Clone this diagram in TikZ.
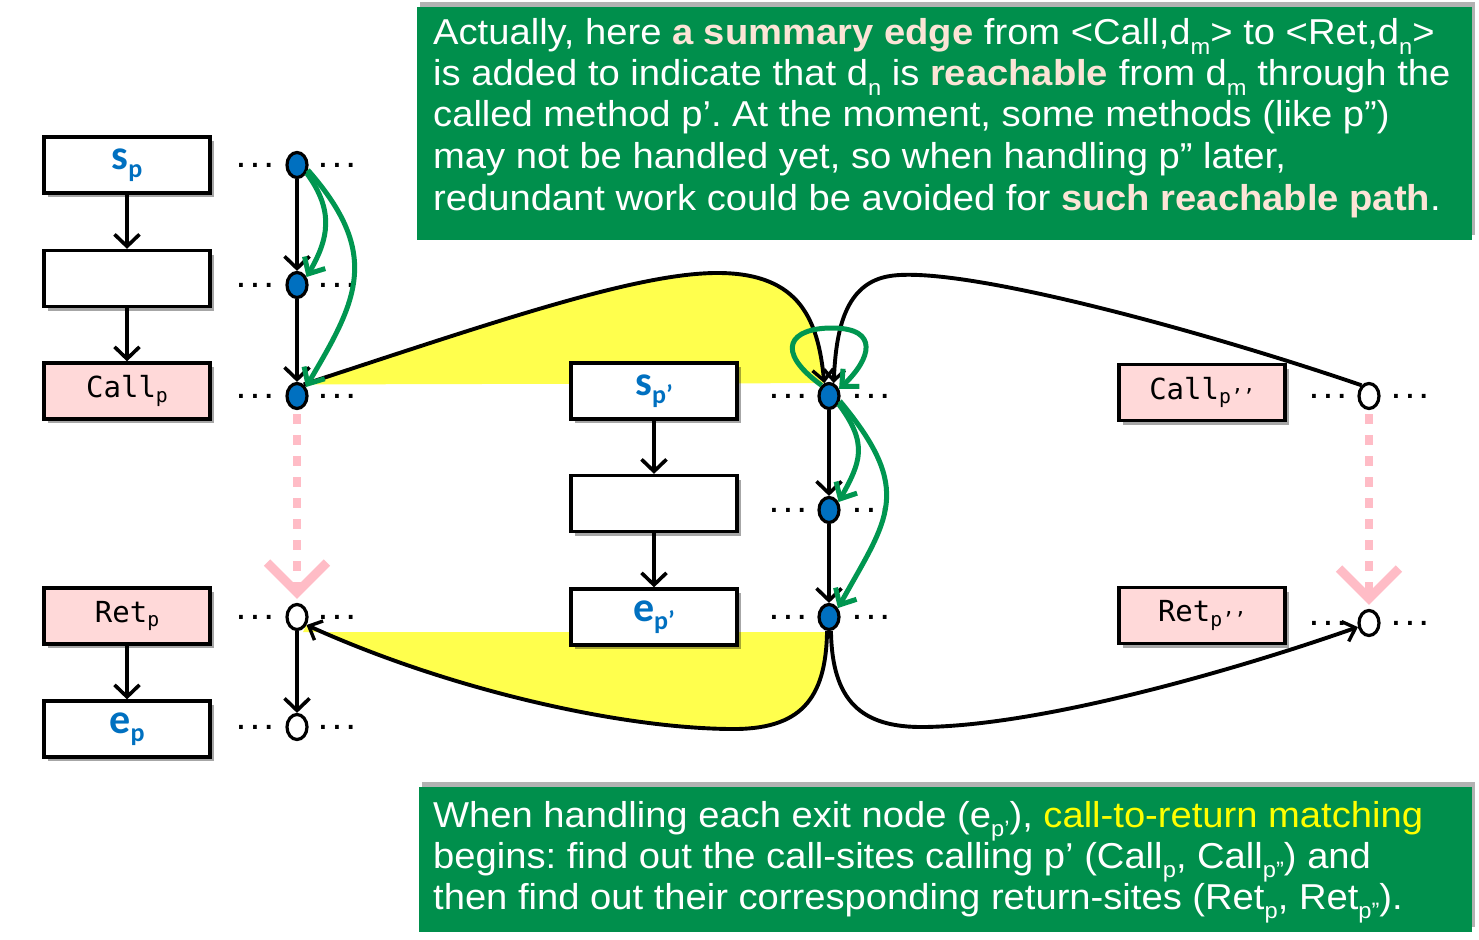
\documentclass[tikz,border=0pt]{standalone}
\usepackage{fontspec}
\usepackage{graphicx}
\setmainfont{Liberation Sans}[FakeStretch=1.06]
\newfontfamily\monof{DejaVu Sans Mono}
\newfontfamily\carl{Carlito}
\usetikzlibrary{arrows.meta,shapes.geometric,shadows,backgrounds}
\definecolor{boxgreen}{RGB}{0,143,76}
\definecolor{arrgreen}{RGB}{0,150,80}
\definecolor{hl}{RGB}{252,228,214}
\definecolor{ylw}{RGB}{255,255,77}
\definecolor{nblue}{RGB}{0,112,192}
\definecolor{lblue}{RGB}{0,112,192}
\definecolor{pinkfill}{RGB}{255,217,217}
\definecolor{pinkdash}{RGB}{255,188,198}
\definecolor{txtyellow}{RGB}{255,255,0}
\newcommand{\dsub}[1]{\raisebox{-0.26em}{\scalebox{0.62}{#1}}}
\newcommand{\bsub}[1]{\raisebox{-0.2em}{\scalebox{0.62}{#1}}}
\newcommand{\msub}[1]{\raisebox{-0.15em}{\scalebox{0.68}{#1}}}
\newcommand{\bl}[2]{{\fontsize{42}{44}\selectfont\carl\bfseries\color{lblue}#1\bsub{#2}}}
\newcommand{\ml}[2]{{\fontsize{29}{31}\selectfont\monof #1\msub{#2}}}
\newcommand{\tdots}{{\fontsize{23}{23}\selectfont\monof\bfseries ...}}
\newcommand{\hlt}[1]{{\bfseries\color{hl}#1}}
\frenchspacing
\begin{document}
\begin{tikzpicture}[x=1pt,y=-1pt,
  blk/.style={draw, line width=3.3pt, minimum width=166pt, minimum height=56pt, inner sep=0pt, fill=white,
    drop shadow={shadow xshift=4pt, shadow yshift=-4pt, opacity=0.35, fill=black}},
  callbox/.style={blk, fill=pinkfill},
  pnt/.style={ellipse, draw, line width=3.2pt, minimum width=20pt, minimum height=25pt, inner sep=0pt},
  full/.style={pnt, fill=nblue},
  hollow/.style={pnt, fill=white},
  dotn/.style={anchor=base west, inner sep=0pt},
  flow/.style={line width=3.9pt, -{Straight Barb[length=12pt,width=25pt,line width=3.6pt]}},
  garr/.style={draw=arrgreen, line width=5pt, -{Straight Barb[length=13pt,width=24pt,line width=5pt]}},
  carr/.style={line width=3.9pt, -{Straight Barb[length=11pt,width=21pt,line width=3.4pt]}},
  pinkarr/.style={draw=pinkdash, line width=8pt, dash pattern=on 10pt off 11pt,
    -{Straight Barb[length=30pt,width=60pt,line width=9pt]}},
  gbox/.style={fill=boxgreen, inner sep=0pt, drop shadow={shadow xshift=3pt, shadow yshift=5pt, opacity=0.3, fill=black}},
  tline/.style={anchor=base west, inner sep=0pt, text=white, font={\fontsize{36}{41}\selectfont}}
]
\useasboundingbox (0,0) rectangle (1479,939);

% green text boxes
\node[gbox, minimum width=1055pt, minimum height=233pt] (tb) at (944.5,123.5) {};
\node[gbox, minimum width=1053pt, minimum height=145pt] (bb) at (945.5,859.5) {};
\node[tline] (t1) at (433,45) {Actually, here \hlt{a summary edge} from <Call,d\dsub{m}> to <Ret,d\dsub{n}>};
\node[tline] (t2) at (433,86) {is added to indicate that d\dsub{n} is \hlt{reachable} from d\dsub{m} through the};
\node[tline] (t3) at (433,127) {called method p’. At the moment, some methods (like p”)};
\node[tline] (t4) at (433,168.5) {may not be handled yet, so when handling p” later,};
\node[tline] (t5) at (433,210) {redundant work could be avoided for \hlt{such reachable path}.};
\node[tline] (u1) at (433,827) {When handling each exit node (e\dsub{p’}), {\color{txtyellow}call-to-return matching}};
\node[tline] (u2) at (433,868) {begins: find out the call-sites calling p’ (Call\dsub{p}, Call\dsub{p”}) and};
\node[tline] (u3) at (433,909) {then find out their corresponding return-sites (Ret\dsub{p}, Ret\dsub{p”}).};

% boxes
\node[blk] (b1) at (127,165) {\bl{s}{p}};
\node[blk] (b2) at (127,278.5) {};
\node[callbox] (b3) at (127,391) {\ml{Call}{p}};
\node[callbox] (b4) at (127,616) {\ml{Ret}{p}};
\node[blk] (b5) at (127,729) {\bl{e}{p}};
\node[blk] (c1) at (654,391) {\bl{s}{p’}};
\node[blk] (c2) at (654,503.5) {};
\node[blk] (c3) at (654,617) {\bl{e}{p’}};
\node[callbox] (e1) at (1202,392.5) {\ml{Call}{p’’}};
\node[callbox] (e2) at (1202,615.5) {\ml{Ret}{p’’}};

% points
\node[full] (l1) at (297,165) {};
\node[full] (l2) at (297,285) {};
\node[full] (l3) at (297,396) {};
\node[hollow] (l4) at (297,617) {};
\node[hollow] (l5) at (297,727) {};
\node[full] (m1) at (829,396) {};
\node[full] (m2) at (829,510) {};
\node[full] (m3) at (829,617) {};
\node[hollow] (r1) at (1369,396) {};
\node[hollow] (r2) at (1369,623) {};

% dots
\foreach \n/\y in {1/165,2/285,3/396,4/617,5/727}{
  \node[dotn] (dla\n) at (234,\y+2) {\tdots};
  \node[dotn] (dlb\n) at (316,\y+2) {\tdots};
}
\foreach \n/\y in {1/396,2/510,3/617}{
  \node[dotn] (dma\n) at (767,\y+2) {\tdots};
  \node[dotn] (dmb\n) at (850,\y+2) {\tdots};
}
\foreach \n/\y in {1/396,2/623}{
  \node[dotn] (dra\n) at (1307,\y+2) {\tdots};
  \node[dotn] (drb\n) at (1389,\y+2) {\tdots};
}

% yellow areas
\begin{pgfonlayer}{background}
\fill[ylw] (l3.60) .. controls (500,320) and (640,272) .. (720,273) .. controls (800,274) and (818,320) .. (m1.110) -- cycle;
\fill[ylw] (827.5,632) .. controls (826,700) and (800,730) .. (730,729) .. controls (620,728) and (450,690) .. (l4.-40) -- (303,632) -- cycle;
\end{pgfonlayer}

% box flow arrows
\draw[flow] (b1) -- (b2);
\draw[flow] (b2) -- (b3);
\draw[flow] (b4) -- (b5);
\draw[flow] (c1) -- (c2);
\draw[flow] (c2) -- (c3);
\draw[flow] (l1) -- (l2);
\draw[flow] (l2) -- (l3);
\draw[flow] (l4) -- (l5);
\draw[flow] (m1) -- (m2);
\draw[flow] (m2) -- (m3);

% pink call-to-return
\draw[pinkarr, shorten <=4pt, shorten >=4pt] (l3) -- (l4);
\draw[pinkarr, shorten <=4pt, shorten >=4pt] (r1) -- (r2);

% call / return curves
\draw[carr] (l3.60) .. controls (500,320) and (640,272) .. (720,273) .. controls (800,274) and (818,320) .. (m1.110);
\draw[carr] (r1.125) .. controls (1200,330) and (960,265) .. (890,276) .. controls (845,283) and (836,330) .. (m1.70);
\draw[carr] (m3.262) .. controls (826,700) and (800,730) .. (730,729) .. controls (620,728) and (450,690) .. (l4.-40);
\draw[carr] (m3.278) .. controls (832,700) and (860,728) .. (925,727) .. controls (1050,725) and (1250,665) .. (r2.200);

% green path edges
\draw[garr] (l1.-40) .. controls +(28,38) and +(22,-38) .. (l2.40);
\draw[garr] (l1.-25) .. controls +(75,85) and +(50,-85) .. (l3.45);
\draw[garr] (m1.-40) .. controls +(30,40) and +(22,-40) .. (m2.40);
\draw[garr] (m1.-25) .. controls +(75,90) and +(50,-90) .. (m3.45);
\draw[garr] (m1.125) .. controls +(-48,-35) and +(-42,0) .. (832,328) .. controls +(48,0) and +(32,-30) .. (m1.35);
\end{tikzpicture}
\end{document}
